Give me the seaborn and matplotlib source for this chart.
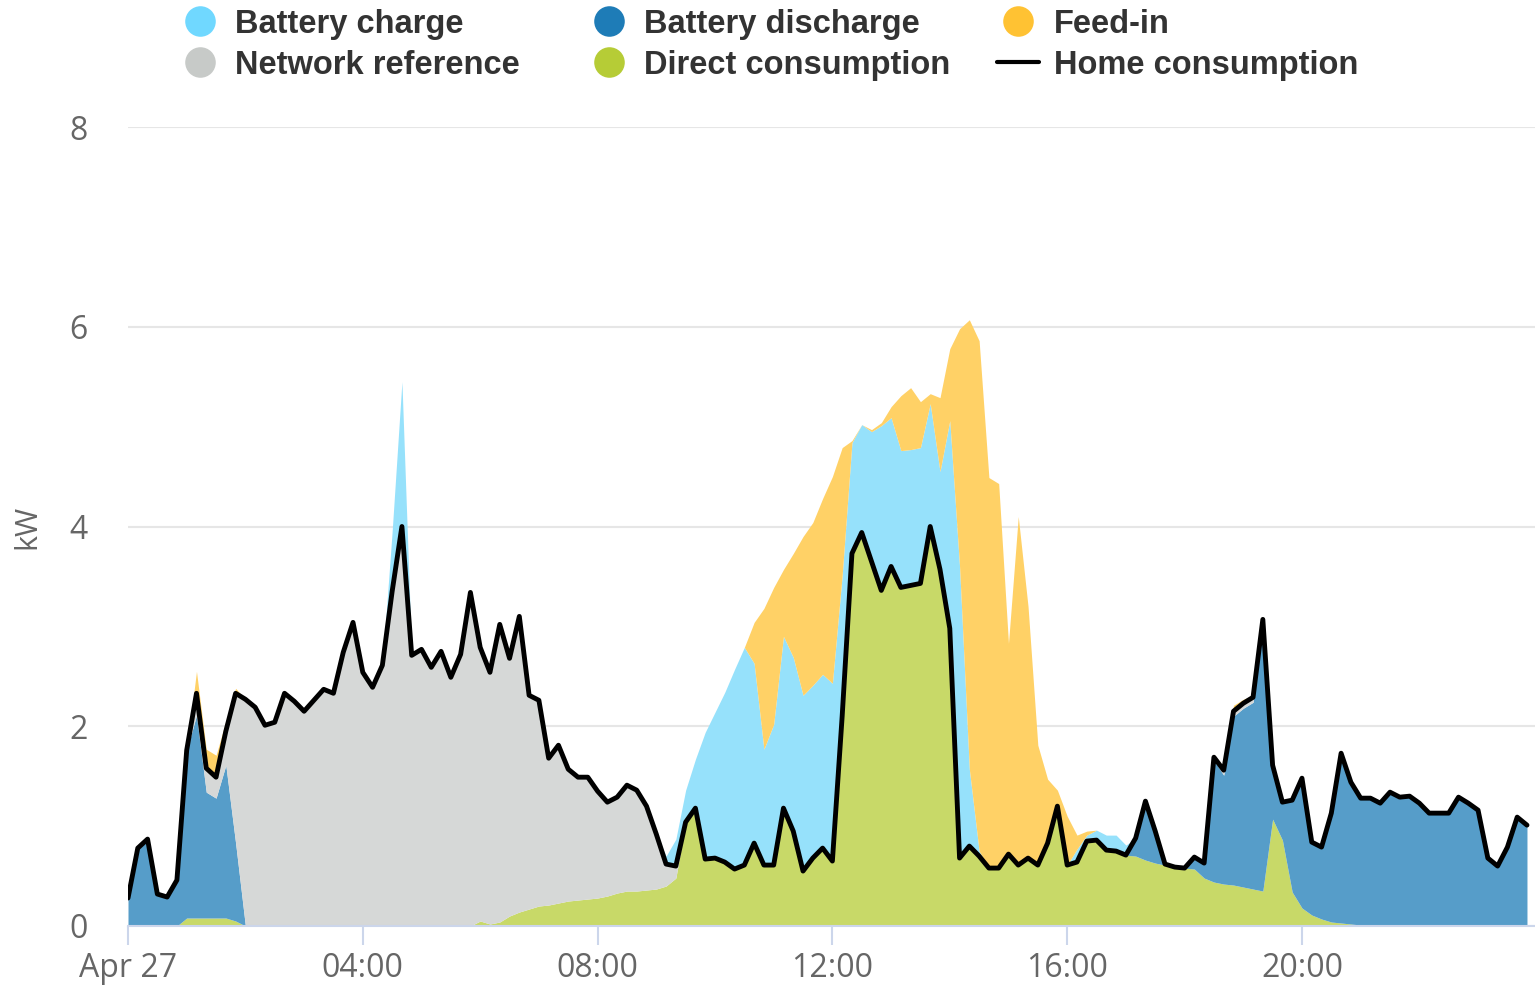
import numpy as np
import pandas as pd
import seaborn as sns
import matplotlib.pyplot as plt
from matplotlib.lines import Line2D

# readings every 10 minutes for Apr 27, kW
home = [0.28, 0.78, 0.87, 0.32, 0.29, 0.46, 1.76, 2.33, 1.58, 1.49, 1.95, 2.33,
        2.27, 2.19, 2.01, 2.04, 2.33, 2.25, 2.15, 2.26, 2.37, 2.33, 2.74, 3.04,
        2.54, 2.39, 2.61, 3.35, 4.00, 2.71, 2.77, 2.59, 2.75, 2.49, 2.72, 3.34,
        2.79, 2.54, 3.02, 2.68, 3.10, 2.31, 2.26, 1.68, 1.81, 1.57, 1.49, 1.49,
        1.35, 1.24, 1.29, 1.41, 1.36, 1.20, 0.92, 0.62, 0.60, 1.04, 1.18, 0.67,
        0.68, 0.64, 0.57, 0.61, 0.83, 0.61, 0.61, 1.18, 0.95, 0.55, 0.68, 0.78,
        0.65, 2.10, 3.73, 3.94, 3.65, 3.36, 3.60, 3.39, 3.41, 3.43, 4.00, 3.57,
        2.98, 0.68, 0.80, 0.70, 0.58, 0.58, 0.72, 0.61, 0.68, 0.61, 0.83, 1.20,
        0.61, 0.64, 0.85, 0.86, 0.76, 0.75, 0.71, 0.88, 1.25, 0.95, 0.62, 0.59,
        0.58, 0.69, 0.63, 1.69, 1.56, 2.15, 2.23, 2.29, 3.07, 1.61, 1.24, 1.26,
        1.48, 0.84, 0.79, 1.13, 1.73, 1.44, 1.28, 1.28, 1.23, 1.34, 1.29, 1.30,
        1.23, 1.13, 1.13, 1.13, 1.29, 1.23, 1.16, 0.68, 0.60, 0.79, 1.09, 1.01]

direct = ([0, 0, 0, 0, 0, 0, 0.08, 0.08, 0.08, 0.08, 0.08, 0.05]
          + [0.0] * 24
          + [0.05, 0.02, 0.04, 0.10, 0.14, 0.17, 0.20, 0.21, 0.23, 0.25, 0.26, 0.27,
             0.28, 0.30, 0.33, 0.35, 0.35, 0.36, 0.37, 0.40, 0.48, 1.04, 1.18, 0.67,
             0.68, 0.64, 0.57, 0.61, 0.83, 0.61, 0.61, 1.18, 0.95, 0.55, 0.68, 0.78,
             0.65, 2.10, 3.73, 3.94, 3.65, 3.36, 3.60, 3.39, 3.41, 3.43, 4.00, 3.57,
             2.98, 0.68, 0.80, 0.70, 0.58, 0.58, 0.72, 0.61, 0.68, 0.61, 0.83, 1.20,
             0.61, 0.64, 0.85, 0.86, 0.76, 0.75, 0.71, 0.70, 0.66, 0.63, 0.61, 0.59,
             0.58, 0.57, 0.48, 0.44, 0.42, 0.41, 0.39, 0.37, 0.35, 1.07, 0.86, 0.34,
             0.18, 0.11, 0.07, 0.04, 0.03, 0.02]
          + [0.01] * 18)

discharge = ([0.28, 0.78, 0.87, 0.32, 0.29, 0.46, 1.68, 2.03, 1.26, 1.20, 1.53, 0.78]
             + [0.0] * 91
             + [0.18, 0.59, 0.32, 0.01, 0,
                0, 0.12, 0.15, 1.22, 1.09, 1.69, 1.79, 1.87, 2.72, 0.54, 0.38, 0.92,
                1.30, 0.73, 0.72, 1.09, 1.70, 1.42, 1.27, 1.27, 1.22, 1.33, 1.28, 1.29,
                1.22, 1.12, 1.12, 1.12, 1.28, 1.22, 1.15, 0.67, 0.59, 0.78, 1.08, 1.00])

network = ([0, 0, 0, 0, 0, 0, 0, 0.22, 0.24, 0.21, 0.34, 1.50,
            2.27, 2.19, 2.01, 2.04, 2.33, 2.25, 2.15, 2.26, 2.37, 2.33, 2.74, 3.04,
            2.54, 2.39, 2.61, 3.35, 4.00, 2.71, 2.77, 2.59, 2.75, 2.49, 2.72, 3.34,
            2.74, 2.52, 2.98, 2.58, 2.96, 2.14, 2.06, 1.47, 1.58, 1.32, 1.23, 1.22,
            1.07, 0.94, 0.96, 1.06, 1.01, 0.84, 0.55, 0.22, 0.12]
           + [0.0] * 54
           + [0.03, 0.05, 0.05, 0.05, 0.05]
           + [0.0] * 28)

charge = ([0.0] * 27
          + [0.6, 1.45]
          + [0.0] * 26
          + [0.08, 0.27, 0.32, 0.49, 1.27,
             1.46, 1.70, 2.00, 2.18, 1.80, 1.16, 1.41, 1.72, 1.74, 1.76, 1.73, 1.74,
             1.78, 1.41, 1.11, 1.08, 1.30, 1.65, 1.49, 1.37, 1.36, 1.36, 1.23, 0.98,
             2.08, 2.92, 0.77, 0.05]
          + [0.0] * 9
          + [0.13, 0.06, 0.10, 0.15, 0.16, 0.10]
          + [0.0] * 41)

feedin = ([0, 0, 0, 0, 0, 0, 0, 0.22, 0.19, 0.22, 0.10, 0.05]
          + [0.0] * 52
          + [0.41, 1.41, 1.37, 0.67, 1.04, 1.59, 1.63, 1.76,
             2.07, 1.28, 0.02, 0.00, 0.02, 0.03, 0.11, 0.55, 0.62, 0.46, 0.10, 0.74,
             0.72, 2.38, 4.50, 5.11, 3.91, 3.85, 2.11, 3.49, 2.52, 1.20, 0.64, 0.16,
             0.49, 0.14, 0.04]
          + [0.0] * 12
          + [0.03, 0.03, 0.06, 0.04, 0.02]
          + [0.0] * 28)

tick_hours = [0, 4, 8, 12, 16, 20]
tick_labels = ['Apr 27', '04:00', '08:00', '12:00', '16:00', '20:00']

# legend colours and the lighter fill colours of the areas
colors = {'Battery charge': '#70d8ff', 'Network reference': '#c7cac8',
          'Battery discharge': '#1e7cb7', 'Direct consumption': '#b6cc36',
          'Feed-in': '#ffc233'}
fills = ['#c8d968', '#569dc9', '#d6d8d7', '#96e1fb', '#ffd166']

hours = np.arange(len(home)) / 6
df = pd.DataFrame({'hour': hours, 'kW': home})

sns.set_theme(style='white')
plt.rcParams['font.family'] = ['Open Sans', 'DejaVu Sans']

fig = plt.figure(figsize=(15.35, 9.85), dpi=100)
ax = fig.add_axes([128 / 1535, 59 / 985, 1407 / 1535, 799 / 985])

ax.stackplot(hours, direct, discharge, network, charge, feedin,
             colors=fills, linewidth=0)
sns.lineplot(data=df, x='hour', y='kW', color='black', lw=3.5, ax=ax,
             solid_joinstyle='round')

ax.set_xlim(0, 23.97)
ax.set_ylim(0, 8)
ax.set_yticks([0, 2, 4, 6, 8])
ax.set_xticks(tick_hours)
ax.set_xticklabels(tick_labels)
ax.set_xlabel('')
ax.set_ylabel('kW', fontsize=22, color='#666666')
ax.yaxis.set_label_coords(-0.061, 0.5)

ax.grid(axis='y', color='#e6e6e6', lw=1.5)
ax.set_axisbelow(True)
for side in ['left', 'right', 'top']:
    ax.spines[side].set_visible(False)
ax.spines['bottom'].set_color('#ccd6eb')
ax.spines['bottom'].set_linewidth(1.5)
ax.tick_params(axis='x', bottom=True, length=14, width=1.5, color='#ccd6eb',
               labelsize=23, labelcolor='#666666', pad=5)
ax.tick_params(axis='y', left=False, labelsize=23, labelcolor='#666666', pad=23)

# legend in three columns, laid out row by row like the original
def dot(c):
    return Line2D([], [], marker='o', linestyle='none', markersize=22,
                  markerfacecolor=c, markeredgewidth=0)

columns = [
    (0.1163, [dot(colors['Battery charge']), dot(colors['Network reference'])],
     ['Battery charge', 'Network reference']),
    (0.3827, [dot(colors['Battery discharge']), dot(colors['Direct consumption'])],
     ['Battery discharge', 'Direct consumption']),
    (0.6495, [dot(colors['Feed-in']), Line2D([], [], color='black', lw=3)],
     ['Feed-in', 'Home consumption']),
]
for x, handles, labels in columns:
    leg = fig.legend(handles, labels, loc='upper left', bbox_to_anchor=(x, 0.991),
                     frameon=False, borderpad=0, borderaxespad=0,
                     handlelength=1.3, handletextpad=0.44, labelspacing=0.3,
                     prop={'family': 'Liberation Sans', 'weight': 'bold', 'size': 23.5})
    for t in leg.get_texts():
        t.set_color('#333333')

fig.savefig('out.png', dpi=100)
